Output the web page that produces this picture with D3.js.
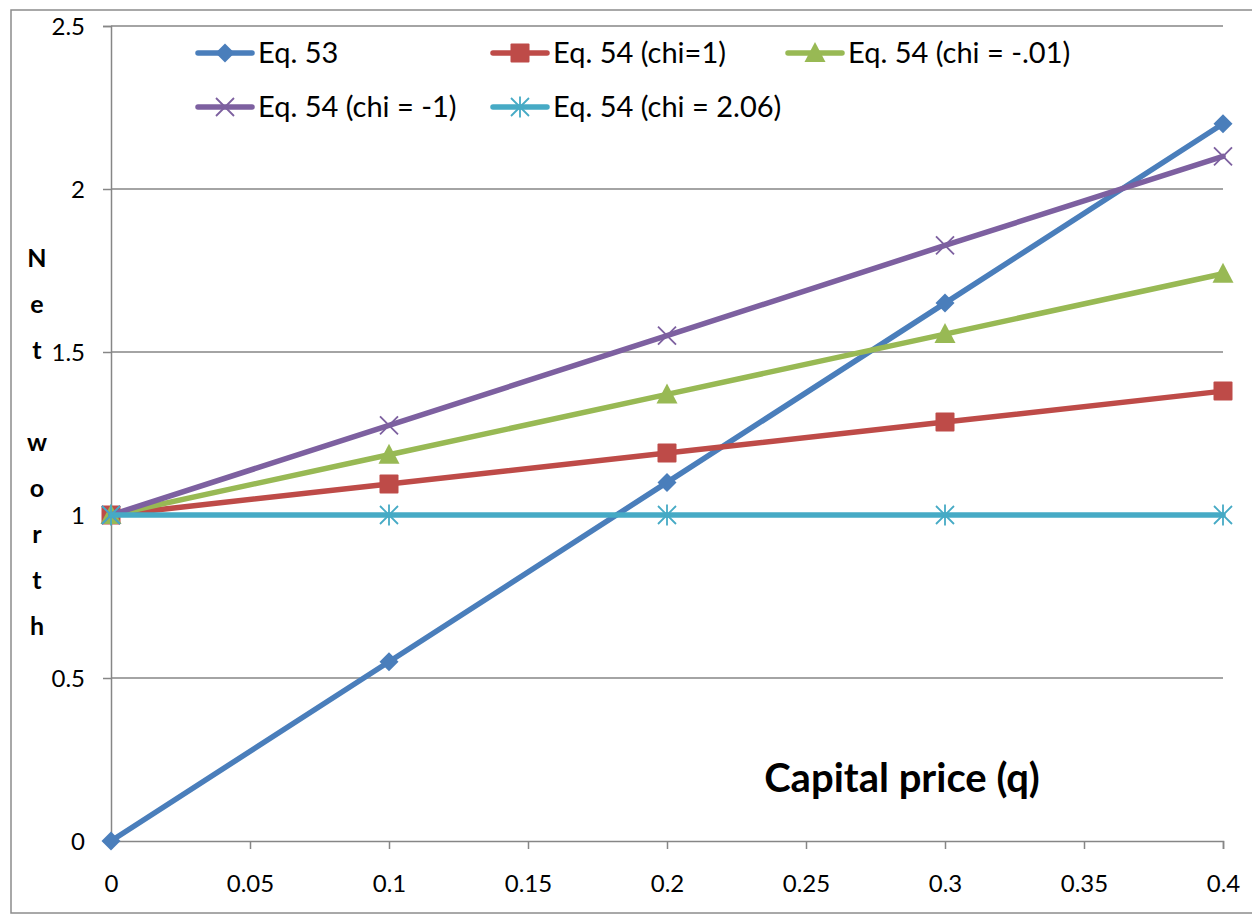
<!DOCTYPE html>
<html>
<head>
<meta charset="utf-8">
<script src="https://cdn.jsdelivr.net/npm/d3@7"></script>
<style>
  html, body { margin: 0; padding: 0; background: #fff; }
  svg { display: block; font-family: Lato, "Open Sans", sans-serif; }
</style>
</head>
<body>
<svg id="chart" width="1252" height="915"></svg>
<script>
// Capital price q on the horizontal axis
const qValues = [0, 0.1, 0.2, 0.3, 0.4];

// Net worth for each equation variant
const eq53       = [0, 0.55, 1.1, 1.65, 2.2];
const eq54chi1   = [1, 1.095, 1.19, 1.285, 1.38];
const eq54chiM01 = [1, 1.185, 1.37, 1.555, 1.74];
const eq54chiM1  = [1, 1.275, 1.55, 1.827, 2.1];
const eq54chi206 = [1, 1, 1, 1, 1];

const seriesNames = ["Eq. 53", "Eq. 54 (chi=1)", "Eq. 54 (chi = -.01)", "Eq. 54 (chi = -1)", "Eq. 54 (chi = 2.06)"];

const xTicks = [0, 0.05, 0.1, 0.15, 0.2, 0.25, 0.3, 0.35, 0.4];
const yTicks = [0, 0.5, 1, 1.5, 2, 2.5];

const series = [
  { name: seriesNames[0], values: eq53,       color: "#4A7EBB", marker: "diamond" },
  { name: seriesNames[1], values: eq54chi1,   color: "#BE4B48", marker: "square" },
  { name: seriesNames[2], values: eq54chiM01, color: "#98B954", marker: "triangle" },
  { name: seriesNames[3], values: eq54chiM1,  color: "#7D60A0", marker: "cross" },
  { name: seriesNames[4], values: eq54chi206, color: "#46AAC5", marker: "star" }
];

const svg = d3.select("#chart");
const plotLeft = 111, plotRight = 1223, plotTop = 26, plotBottom = 841;
const x = d3.scaleLinear().domain([0, 0.4]).range([plotLeft, plotRight]);
const y = d3.scaleLinear().domain([0, 2.5]).range([plotBottom, plotTop]);

// outer frame
svg.append("rect")
  .attr("x", 11).attr("y", 10).attr("width", 1260).attr("height", 903)
  .attr("fill", "none").attr("stroke", "#8c8c8c").attr("stroke-width", 1.5);

// horizontal gridlines
svg.append("g")
  .selectAll("line")
  .data(yTicks.filter(d => d > 0))
  .join("line")
  .attr("x1", plotLeft).attr("x2", plotRight)
  .attr("y1", d => y(d)).attr("y2", d => y(d))
  .attr("stroke", "#868686").attr("stroke-width", 1.5);

// x axis
const xAxis = svg.append("g")
  .attr("transform", `translate(0,${plotBottom})`)
  .call(d3.axisBottom(x).tickValues(xTicks).tickFormat(d => String(+d.toFixed(2))).tickSize(8).tickPadding(26));
// y axis
const yAxis = svg.append("g")
  .attr("transform", `translate(${plotLeft},0)`)
  .call(d3.axisLeft(y).tickValues(yTicks).tickFormat(d => String(d)).tickSize(8).tickPadding(18));

[xAxis, yAxis].forEach(g => {
  g.attr("font-size", null).attr("font-family", null);
  g.select(".domain").attr("stroke", "#868686").attr("stroke-width", 1.5);
  g.selectAll(".tick line").attr("stroke", "#868686").attr("stroke-width", 1.5);
  g.selectAll(".tick text").attr("fill", "#000").attr("font-size", 24).style("font-size", "24px");
});
yAxis.selectAll(".tick text").attr("dy", "0.36em");
xAxis.selectAll(".tick text").attr("dy", "0.71em");

// marker drawing
function drawMarker(g, type, color) {
  if (type === "diamond") {
    g.append("path").attr("d", "M0,-9.5L9.5,0L0,9.5L-9.5,0Z").attr("fill", color);
  } else if (type === "square") {
    g.append("rect").attr("x", -9.5).attr("y", -9.5).attr("width", 19).attr("height", 19).attr("rx", 1).attr("fill", color);
  } else if (type === "triangle") {
    g.append("path").attr("d", "M0,-11L10.5,9L-10.5,9Z").attr("fill", color);
  } else if (type === "cross") {
    g.append("path").attr("d", "M-9,-9L9,9M-9,9L9,-9").attr("stroke", color).attr("stroke-width", 1.8).attr("fill", "none");
  } else if (type === "star") {
    g.append("path").attr("d", "M-9,-9L9,9M-9,9L9,-9M0,-10.5L0,10.5").attr("stroke", color).attr("stroke-width", 1.8).attr("fill", "none");
  }
}

const line = d3.line().x((d, i) => x(qValues[i])).y(d => y(d));

// lines with their markers, in series order
series.forEach(s => {
  svg.append("path")
    .datum(s.values)
    .attr("d", line)
    .attr("fill", "none")
    .attr("stroke", s.color)
    .attr("stroke-width", 5.5)
    .attr("stroke-linejoin", "round")
    .attr("stroke-linecap", "round");
  s.values.forEach((v, i) => {
    const g = svg.append("g").attr("transform", `translate(${x(qValues[i])},${y(v)})`);
    drawMarker(g, s.marker, s.color);
  });
});

// legend
const legendPos = [
  { lx: 198, ly: 53 }, { lx: 493, ly: 53 }, { lx: 788, ly: 53 },
  { lx: 198, ly: 107 }, { lx: 493, ly: 107 }
];
series.forEach((s, i) => {
  const p = legendPos[i];
  const g = svg.append("g").attr("transform", `translate(${p.lx},${p.ly})`);
  g.append("line").attr("x1", 0).attr("x2", 54).attr("y1", 0).attr("y2", 0)
    .attr("stroke", s.color).attr("stroke-width", 5.5).attr("stroke-linecap", "round");
  const m = g.append("g").attr("transform", "translate(27,0)");
  drawMarker(m, s.marker, s.color);
  g.append("text").attr("x", 60).attr("y", 0).attr("dy", "0.36em")
    .style("font-size", "29px").attr("fill", "#000").text(s.name);
});

// y axis title, stacked letters
const yTitle = "Net worth".split("");
svg.append("g").selectAll("text")
  .data(yTitle)
  .join("text")
  .attr("x", 37).attr("y", (d, i) => 258 + i * 46)
  .attr("dy", "0.36em")
  .attr("text-anchor", "middle")
  .style("font-size", "25px").style("font-weight", "bold")
  .text(d => d);

// x axis title
svg.append("text")
  .attr("x", 902).attr("y", 792)
  .attr("text-anchor", "middle")
  .style("font-size", "40px").style("font-weight", "bold")
  .text("Capital price (q)");
</script>
</body>
</html>
